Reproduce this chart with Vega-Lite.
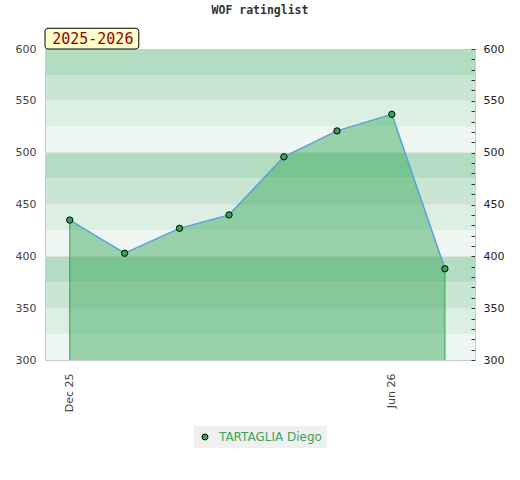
{
  "$schema": "https://vega.github.io/schema/vega-lite/v6.json",
  "description": "WOF ratinglist for TARTAGLIA Diego, season 2025-2026",
  "autosize": "none",
  "width": 430,
  "height": 311,
  "padding": {"left": 45, "top": 49, "right": 45, "bottom": 120},
  "background": "white",
  "config": {
    "view": {"stroke": "#d9d9d9", "strokeWidth": 1},
    "font": "DejaVu Sans"
  },
  "title": {
    "text": "WOF ratinglist",
    "font": "DejaVu Sans Mono",
    "fontSize": 11.5,
    "fontWeight": "bold",
    "color": "#333333",
    "offset": 11,
    "anchor": "middle",
    "frame": "group"
  },
  "datasets": {
    "ratings": [
      {"date": "2025-12-01", "rating": 435, "player": "TARTAGLIA Diego"},
      {"date": "2026-01-01", "rating": 403, "player": "TARTAGLIA Diego"},
      {"date": "2026-02-01", "rating": 427, "player": "TARTAGLIA Diego"},
      {"date": "2026-03-01", "rating": 440, "player": "TARTAGLIA Diego"},
      {"date": "2026-04-01", "rating": 496, "player": "TARTAGLIA Diego"},
      {"date": "2026-05-01", "rating": 521, "player": "TARTAGLIA Diego"},
      {"date": "2026-06-01", "rating": 537, "player": "TARTAGLIA Diego"},
      {"date": "2026-07-01", "rating": 388, "player": "TARTAGLIA Diego"}
    ],
    "bands": [
      {"lo": 575, "hi": 600, "shade": "a"},
      {"lo": 550, "hi": 575, "shade": "b"},
      {"lo": 525, "hi": 550, "shade": "c"},
      {"lo": 500, "hi": 525, "shade": "d"},
      {"lo": 475, "hi": 500, "shade": "a"},
      {"lo": 450, "hi": 475, "shade": "b"},
      {"lo": 425, "hi": 450, "shade": "c"},
      {"lo": 400, "hi": 425, "shade": "d"},
      {"lo": 375, "hi": 400, "shade": "a"},
      {"lo": 350, "hi": 375, "shade": "b"},
      {"lo": 325, "hi": 350, "shade": "c"},
      {"lo": 300, "hi": 325, "shade": "d"}
    ]
  },
  "layer": [
    {
      "data": {"name": "bands"},
      "mark": {"type": "rect"},
      "encoding": {
        "y": {
          "field": "lo",
          "type": "quantitative",
          "scale": {"domain": [300, 600], "nice": false, "zero": false},
          "axis": {
            "orient": "left",
            "values": [300, 350, 400, 450, 500, 550, 600],
            "ticks": false,
            "grid": false,
            "title": null,
            "domainColor": "#cccccc",
            "labelPadding": 9,
            "labelFontSize": 11,
            "labelColor": "#444444",
            "zindex": 1
          }
        },
        "y2": {"field": "hi"},
        "fill": {
          "field": "shade",
          "type": "nominal",
          "scale": {"domain": ["a", "b", "c", "d"], "range": ["#b3ddc3", "#c9e6d4", "#dcefe3", "#eef7f1"]},
          "legend": null
        }
      }
    },
    {
      "data": {"name": "bands"},
      "transform": [{"filter": "datum.hi % 50 == 0 && datum.hi < 600"}],
      "mark": {"type": "rule", "color": "#e2e2e2", "strokeWidth": 1},
      "encoding": {
        "y": {"field": "hi", "type": "quantitative", "axis": null}
      }
    },
    {
      "data": {"name": "ratings"},
      "mark": {"type": "area", "color": "#2da550", "opacity": 0.44},
      "encoding": {
        "x": {
          "field": "date",
          "type": "temporal",
          "scale": {"type": "utc", "domain": [{"year": 2025, "month": 11, "date": 17, "utc": true}, {"year": 2026, "month": 7, "date": 18, "utc": true}]},
          "axis": {
            "values": [{"year": 2025, "month": 12, "date": 1, "utc": true}, {"year": 2026, "month": 6, "date": 1, "utc": true}],
            "labelExpr": "utcFormat(datum.value, '%b %y')",
            "labelAngle": -90,
            "ticks": false,
            "grid": false,
            "title": null,
            "domainColor": "#cccccc",
            "labelPadding": 13,
            "labelFontSize": 11,
            "labelColor": "#444444",
            "zindex": 1
          }
        },
        "y": {
          "field": "rating",
          "type": "quantitative",
          "axis": {
            "orient": "right",
            "values": [300, 310, 320, 330, 340, 350, 360, 370, 380, 390, 400, 410, 420, 430, 440, 450, 460, 470, 480, 490, 500, 510, 520, 530, 540, 550, 560, 570, 580, 590, 600],
            "labelExpr": "datum.value % 50 == 0 ? datum.label : ''",
            "tickSize": -4,
            "tickColor": "#333333",
            "grid": false,
            "title": null,
            "domainColor": "#cccccc",
            "labelPadding": 12,
            "labelFontSize": 11,
            "labelColor": "#222222",
            "zindex": 1
          }
        },
        "y2": {"datum": 300}
      }
    },
    {
      "data": {"name": "ratings"},
      "transform": [{"filter": "utcmonth(datum.date) == 11 || utcmonth(datum.date) == 6"}],
      "mark": {"type": "rule", "color": "#2ea44f", "strokeWidth": 1},
      "encoding": {
        "x": {"field": "date", "type": "temporal"},
        "y": {"field": "rating", "type": "quantitative", "axis": null},
        "y2": {"datum": 300}
      }
    },
    {
      "data": {"name": "ratings"},
      "mark": {"type": "line", "color": "#5aa0d8", "strokeWidth": 1.5},
      "encoding": {
        "x": {"field": "date", "type": "temporal"},
        "y": {"field": "rating", "type": "quantitative", "axis": null}
      }
    },
    {
      "data": {"name": "ratings"},
      "mark": {"type": "point", "shape": "circle", "filled": true, "size": 40, "stroke": "#000000", "strokeWidth": 1, "opacity": 1},
      "encoding": {
        "x": {"field": "date", "type": "temporal"},
        "y": {"field": "rating", "type": "quantitative", "axis": null},
        "color": {
          "field": "player",
          "type": "nominal",
          "scale": {"range": ["#3aa35a"]},
          "legend": {
            "orient": "none",
            "legendX": 149,
            "legendY": 377,
            "title": null,
            "fillColor": "#f0f0f0",
            "padding": 5,
            "symbolType": "circle",
            "symbolSize": 36,
            "symbolStrokeColor": "#000000",
            "symbolStrokeWidth": 1,
            "symbolFillColor": "#3aa35a",
            "labelColor": "#3aa35a",
            "labelFontSize": 12,
            "labelOffset": 8,
            "columnPadding": 0
          }
        }
      }
    },
    {
      "data": {"values": [{}]},
      "mark": {"type": "rect", "fill": "#ffffcc", "stroke": "#000000", "strokeWidth": 1, "cornerRadius": 3},
      "encoding": {
        "x": {"datum": {"year": 2025, "month": 11, "date": 17, "utc": true}, "type": "temporal"},
        "x2": {"datum": {"year": 2026, "month": 1, "date": 9, "utc": true}},
        "y": {"datum": 600, "type": "quantitative", "axis": null},
        "y2": {"datum": 620}
      }
    },
    {
      "data": {"values": [{}]},
      "mark": {"type": "text", "text": "2025-2026", "font": "DejaVu Sans Mono", "fontSize": 15, "color": "#990000", "align": "center", "baseline": "middle"},
      "encoding": {
        "x": {"datum": {"year": 2025, "month": 12, "date": 14, "utc": true}, "type": "temporal"},
        "y": {"datum": 610, "type": "quantitative", "axis": null}
      }
    }
  ],
  "resolve": {"axis": {"y": "independent"}}
}
